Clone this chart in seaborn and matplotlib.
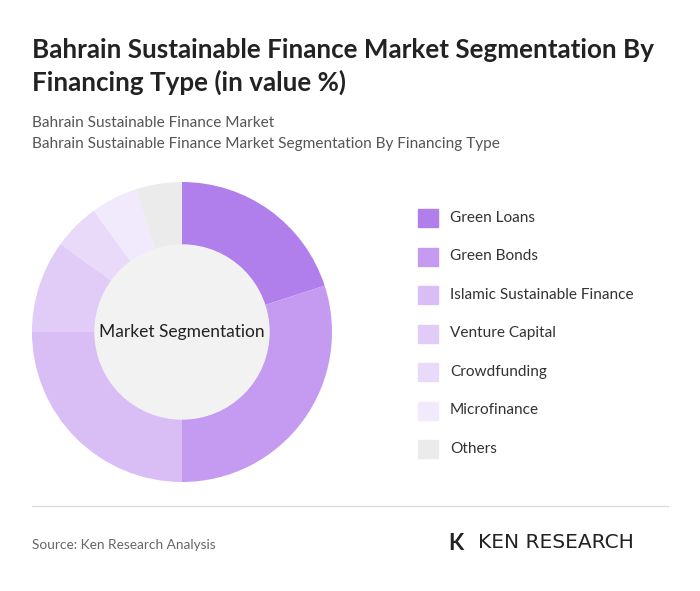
import matplotlib
matplotlib.use("Agg")
import matplotlib.pyplot as plt
import seaborn as sns
from matplotlib.patches import Circle

sns.set_theme(style="white")
plt.rcParams['font.family'] = ['Lato', 'DejaVu Sans']

categories = ["Green Loans", "Green Bonds", "Islamic Sustainable Finance", "Venture Capital",
              "Crowdfunding", "Microfinance", "Others"]
values = [20, 30, 25, 10, 5, 5, 5]
colors = ["#b07fec", "#c49bf0", "#d8bef5", "#e0ccf7", "#e9dafa", "#f1e9fc", "#ebebeb"]

W, H = 700, 591
fig = plt.figure(figsize=(7, 5.91), dpi=100)
fig.patch.set_facecolor("white")

fig.text(32/W, 1-50/H, "Bahrain Sustainable Finance Market Segmentation By", fontsize=18.7, fontweight="bold", color="#222222", va="center")
fig.text(32/W, 1-82/H, "Financing Type (in value %)", fontsize=18.7, fontweight="bold", color="#222222", va="center")
fig.text(32/W, 1-123/H, "Bahrain Sustainable Finance Market", fontsize=11.1, color="#555555", va="center")
fig.text(32/W, 1-144/H, "Bahrain Sustainable Finance Market Segmentation By Financing Type", fontsize=11.1, color="#555555", va="center")

cx, cy, r = 182, 332, 150
ax = fig.add_axes([(cx-r)/W, (H-cy-r)/H, 2*r/W, 2*r/H])
ax.pie(values, colors=colors, startangle=90, counterclock=False,
       wedgeprops=dict(width=0.42, edgecolor="none"), radius=1)
ax.add_patch(Circle((0, 0), 0.58, color="#f2f2f2", zorder=5))
ax.text(0, 0, "Market Segmentation", ha="center", va="center", fontsize=12.5, color="#222222", zorder=6)
ax.set_xlim(-1, 1); ax.set_ylim(-1, 1); ax.set_aspect("equal"); ax.axis("off")

for i, (c, col) in enumerate(zip(categories, colors)):
    y = 218 + i*38.5
    fig.patches.append(plt.Rectangle((418/W, 1-(y+9)/H), 20/W, 18/H, color=col, transform=fig.transFigure))
    fig.text(450/W, 1-y/H, c, fontsize=11.1, color="#333333", va="center")

fig.add_artist(plt.Line2D([32/W, 668/W], [1-506/H, 1-506/H], color="#dddddd", lw=1))
fig.text(32/W, 1-545/H, "Source: Ken Research Analysis", fontsize=9.8, color="#666666", va="center")
fig.text(448/W, 1-543/H, "K", fontsize=16, fontweight="bold", color="#222222", va="center")
fig.text(478/W, 1-543/H, "KEN RESEARCH", fontsize=14.5, color="#222222", va="center",
         family=["DejaVu Sans"])

fig.savefig("out.png", dpi=100, facecolor="white")
